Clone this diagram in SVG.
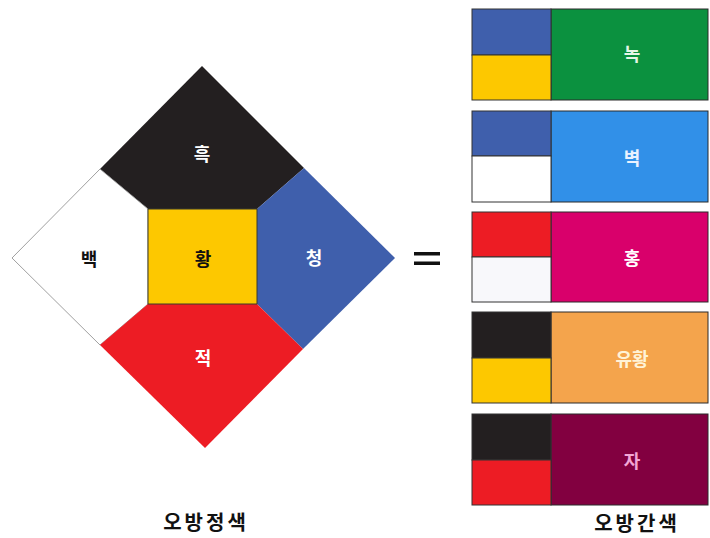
<svg xmlns="http://www.w3.org/2000/svg" width="710" height="538" viewBox="0 0 710 538">
<style>
.lbl{font-family:"Noto Sans CJK KR","Noto Sans",sans-serif;font-weight:700;font-size:18px;text-anchor:middle;dominant-baseline:central}
.cap{font-family:"Noto Sans CJK KR","Noto Sans",sans-serif;font-weight:700;font-size:20px;text-anchor:middle;letter-spacing:3px}
.box{stroke:#2a2a2a;stroke-width:1}
.sw{stroke:#333;stroke-width:1}
</style>
<rect width="710" height="538" fill="#ffffff"/>
<g id="obang">
  <g id="heuk"><polygon points="202,66 304,168 257,209 148,209 100,169" fill="#231f20"/><text class="lbl" x="202" y="153" fill="#ffffff">흑</text></g>
  <g id="baek"><polygon points="12,258 100,169 148,209 148,304 100,345" fill="#ffffff" stroke="#888" stroke-width="0.8"/><text class="lbl" x="89" y="258" fill="#111">백</text></g>
  <g id="cheong"><polygon points="395,258 304,168 257,209 257,304 303,349" fill="#3f5fac"/><text class="lbl" x="314" y="257" fill="#ffffff">청</text></g>
  <g id="jeok"><polygon points="205,448 303,349 257,304 148,304 100,345" fill="#ed1c24"/><text class="lbl" x="203" y="357" fill="#ffffff">적</text></g>
  <g id="hwang"><rect x="148" y="209" width="109" height="95" fill="#fdc800" stroke="#3a3a2a" stroke-width="1"/><text class="lbl" x="203" y="258" fill="#111">황</text></g>
</g>
<g id="equals"><rect x="414" y="252" width="26" height="3.5" fill="#111"/><rect x="414" y="261.5" width="26" height="3.5" fill="#111"/></g>
<g id="nok">
  <rect x="551" y="9" width="157" height="91" fill="#0b913f" class="box"/>
  <rect x="472" y="9" width="79" height="46" fill="#3f5fac" class="sw"/>
  <rect x="472" y="55" width="79" height="45" fill="#fdc800" class="sw"/>
  <text class="lbl" x="632" y="53" fill="#e6f5e6">녹</text>
</g>
<g id="byeok">
  <rect x="551" y="111" width="157" height="91" fill="#3190e8" class="box"/>
  <rect x="472" y="111" width="79" height="45" fill="#3f5fac" class="sw"/>
  <rect x="472" y="156" width="79" height="46" fill="#ffffff" class="sw"/>
  <text class="lbl" x="632" y="157" fill="#eaf2ff">벽</text>
</g>
<g id="hong">
  <rect x="551" y="212" width="157" height="90" fill="#d9006b" class="box"/>
  <rect x="472" y="212" width="79" height="45" fill="#ed1c24" class="sw"/>
  <rect x="472" y="257" width="79" height="45" fill="#f8f8fb" class="sw"/>
  <text class="lbl" x="632" y="257" fill="#ffffff">홍</text>
</g>
<g id="yuhwang">
  <rect x="551" y="312" width="157" height="91" fill="#f4a44c" class="box"/>
  <rect x="472" y="312" width="79" height="46" fill="#231f20" class="sw"/>
  <rect x="472" y="358" width="79" height="45" fill="#fdc800" class="sw"/>
  <text class="lbl" x="632" y="358" fill="#fff3d6">유황</text>
</g>
<g id="ja">
  <rect x="551" y="414" width="157" height="91" fill="#820040" class="box"/>
  <rect x="472" y="414" width="79" height="46" fill="#231f20" class="sw"/>
  <rect x="472" y="460" width="79" height="45" fill="#ed1c24" class="sw"/>
  <text class="lbl" x="632" y="460" fill="#f3a6d6">자</text>
</g>
<g id="captions">
  <text class="cap" x="206" y="530" fill="#111">오방정색</text>
  <text class="cap" x="637" y="531" fill="#111">오방간색</text>
</g>
</svg>
